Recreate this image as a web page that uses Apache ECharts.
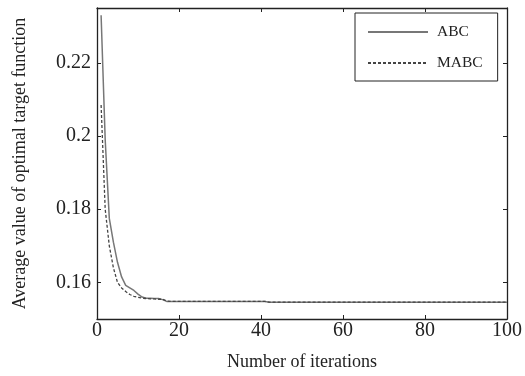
<!DOCTYPE html>
<html>
<head>
<meta charset="utf-8">
<script src="https://cdn.jsdelivr.net/npm/echarts@6/dist/echarts.min.js"></script>
<style>
  html, body { margin: 0; padding: 0; background: #fff; }
  #chart { width: 525px; height: 376px; }
</style>
</head>
<body>
<div id="chart"></div>
<script>
const iterations = [1, 2, 3, 4, 5, 6, 7, 8, 9, 10, 11, 12, 13, 14, 15, 16, 17, 18, 20, 25, 30, 35, 41, 42, 50, 60, 70, 80, 90, 100];
const abcValues = [0.233, 0.199, 0.1775, 0.171, 0.1655, 0.1615, 0.1592, 0.1585, 0.1578, 0.1568, 0.156, 0.1557, 0.1557, 0.1556, 0.1556, 0.1553, 0.1548, 0.1548, 0.1548, 0.1548, 0.1548, 0.1548, 0.1548, 0.1546, 0.1546, 0.1546, 0.1546, 0.1546, 0.1546, 0.1546];
const mabcValues = [0.2085, 0.18, 0.17, 0.164, 0.16, 0.1585, 0.1575, 0.1567, 0.1562, 0.1559, 0.1557, 0.1556, 0.1555, 0.1555, 0.1554, 0.1554, 0.1549, 0.1548, 0.1548, 0.1548, 0.1548, 0.1548, 0.1548, 0.1546, 0.1546, 0.1546, 0.1546, 0.1546, 0.1546, 0.1546];
const yTicks = [0.16, 0.18, 0.2, 0.22];

const font = "'Liberation Serif', 'Times New Roman', serif";
const ink = "#222";

const chart = echarts.init(document.getElementById("chart"));

const frameAxis = {
  axisLine: { show: true, onZero: false, lineStyle: { color: ink, width: 1.3 } },
  axisTick: { show: true, inside: true, length: 4, lineStyle: { color: ink } },
  splitLine: { show: false },
};

chart.setOption({
  animation: false,
  backgroundColor: "#fff",
  textStyle: { fontFamily: font, color: ink },
  grid: { left: 97, right: 15, top: 8, bottom: 56 },
  legend: {
    left: 355,
    top: 13,
    orient: "vertical",
    padding: [11, 15, 10, 12],
    itemWidth: 60,
    itemHeight: 14,
    itemGap: 15,
    borderColor: ink,
    borderWidth: 1,
    itemStyle: { opacity: 0 },
    textStyle: { fontFamily: font, fontSize: 15.5, color: ink, padding: [0, 0, 0, 4] },
    data: ["ABC", "MABC"],
  },
  xAxis: [
    {
      ...frameAxis,
      type: "value",
      min: 0,
      max: 100,
      interval: 20,
      name: "Number of iterations",
      nameLocation: "middle",
      nameGap: 34,
      nameTextStyle: { fontFamily: font, fontSize: 18, color: ink },
      axisLabel: { fontFamily: font, fontSize: 20, color: ink, margin: 2 },
    },
    {
      ...frameAxis,
      type: "value",
      position: "top",
      min: 0,
      max: 100,
      interval: 20,
      axisLabel: { show: false },
    },
  ],
  yAxis: [
    {
      ...frameAxis,
      type: "value",
      min: 0.15,
      max: 0.235,
      name: "Average value of optimal target function",
      nameLocation: "middle",
      nameGap: 68,
      nameTextStyle: { fontFamily: font, fontSize: 18, color: ink },
      axisTick: { ...frameAxis.axisTick, customValues: yTicks },
      axisLabel: { fontFamily: font, fontSize: 20, color: ink, margin: 6, customValues: yTicks },
    },
    {
      ...frameAxis,
      type: "value",
      position: "right",
      min: 0.15,
      max: 0.235,
      axisTick: { ...frameAxis.axisTick, customValues: yTicks },
      axisLabel: { show: false, customValues: yTicks },
    },
  ],
  series: [
    {
      name: "ABC",
      type: "line",
      symbol: "none",
      lineStyle: { color: "#777", width: 1.5, type: "solid" },
      itemStyle: { color: "#777" },
      data: iterations.map((it, i) => [it, abcValues[i]]),
    },
    {
      name: "MABC",
      type: "line",
      symbol: "none",
      lineStyle: { color: "#444", width: 1.3, type: [3, 2] },
      itemStyle: { color: "#444" },
      data: iterations.map((it, i) => [it, mabcValues[i]]),
    },
  ],
});
</script>
</body>
</html>
